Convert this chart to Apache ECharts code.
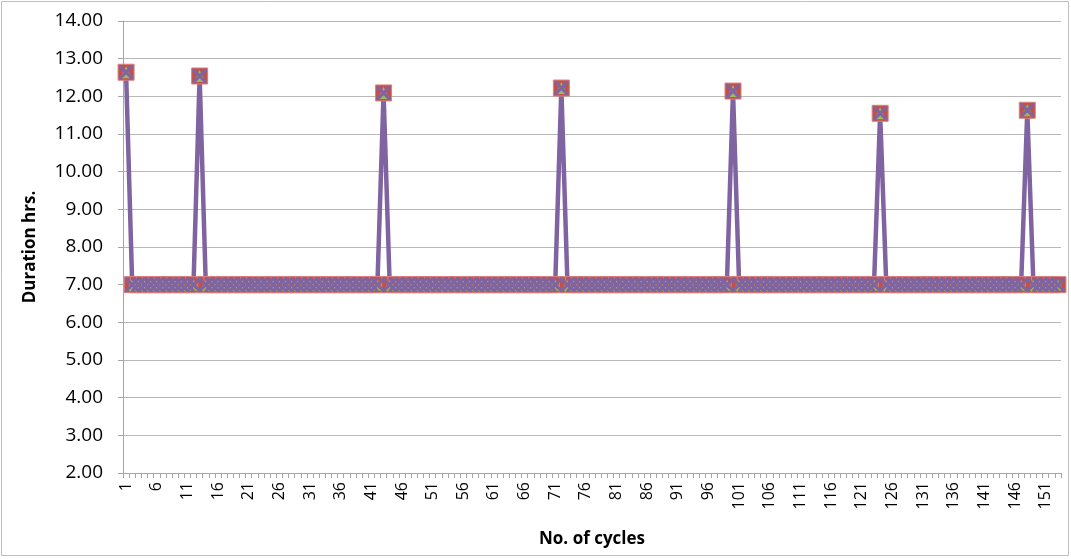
<!DOCTYPE html>
<html>
<head>
<meta charset="utf-8">
<script src="https://cdn.jsdelivr.net/npm/echarts@6/dist/echarts.min.js"></script>
<style>
html,body{margin:0;padding:0;background:#fff;}
#chart{width:1071px;height:559px;}
</style>
</head>
<body>
<div id="chart"></div>
<script>
// Cycle numbers 1..153
const cycles = [
1,2,3,4,5,6,7,8,9,10,11,12,13,14,15,16,17,18,19,20,
21,22,23,24,25,26,27,28,29,30,31,32,33,34,35,36,37,38,39,40,
41,42,43,44,45,46,47,48,49,50,51,52,53,54,55,56,57,58,59,60,
61,62,63,64,65,66,67,68,69,70,71,72,73,74,75,76,77,78,79,80,
81,82,83,84,85,86,87,88,89,90,91,92,93,94,95,96,97,98,99,100,
101,102,103,104,105,106,107,108,109,110,111,112,113,114,115,116,117,118,119,120,
121,122,123,124,125,126,127,128,129,130,131,132,133,134,135,136,137,138,139,140,
141,142,143,144,145,146,147,148,149,150,151,152,153
];
// Duration (hrs) per cycle
const duration = [
12.64,7,7,7,7,7,7,7,7,7,7,7,12.54,7,7,7,7,7,7,7,
7,7,7,7,7,7,7,7,7,7,7,7,7,7,7,7,7,7,7,7,
7,7,12.09,7,7,7,7,7,7,7,7,7,7,7,7,7,7,7,7,7,
7,7,7,7,7,7,7,7,7,7,7,12.22,7,7,7,7,7,7,7,7,
7,7,7,7,7,7,7,7,7,7,7,7,7,7,7,7,7,7,7,12.14,
7,7,7,7,7,7,7,7,7,7,7,7,7,7,7,7,7,7,7,7,
7,7,7,11.55,7,7,7,7,7,7,7,7,7,7,7,7,7,7,7,7,
7,7,7,7,7,7,7,11.63,7,7,7,7,7
];
const yTicks = [2,3,4,5,6,7,8,9,10,11,12,13,14];

const xPath = 'path://M0,1.5 L1.5,0 L5,3.5 L8.5,0 L10,1.5 L6.5,5 L10,8.5 L8.5,10 L5,6.5 L1.5,10 L0,8.5 L3.5,5 Z';
const font = '"Open Sans", "Liberation Sans", sans-serif';

const chart = echarts.init(document.getElementById('chart'), null, {renderer:'canvas'});
chart.setOption({
  animation:false,
  backgroundColor:'#fff',
  graphic:[{type:'rect',shape:{x:1.5,y:1.5,width:1067,height:554},style:{fill:null,stroke:'#bfbfbf',lineWidth:1},silent:true}],
  grid:{left:123,right:10,top:21,bottom:86},
  xAxis:{
    type:'category',data:cycles,boundaryGap:true,
    name:'No. of cycles',nameLocation:'middle',nameGap:58,
    nameTextStyle:{fontFamily:font,fontSize:17,fontWeight:'bold',color:'#000'},
    axisLine:{lineStyle:{color:'#a6a6a6',width:1}},
    axisTick:{show:true,interval:0,length:5,lineStyle:{color:'#a6a6a6'}},
    axisLabel:{interval:4,rotate:90,margin:9,fontFamily:font,fontSize:16,color:'#000'},
    splitLine:{show:false}
  },
  yAxis:{
    type:'value',min:yTicks[0],max:yTicks[yTicks.length-1],interval:1,
    name:'Duration hrs.',nameLocation:'middle',nameGap:84,
    nameTextStyle:{fontFamily:font,fontSize:17,fontWeight:'bold',color:'#000'},
    axisLine:{show:true,lineStyle:{color:'#a6a6a6',width:1}},
    axisTick:{show:true,length:5,lineStyle:{color:'#a6a6a6'}},
    axisLabel:{margin:20,fontFamily:font,fontSize:19,color:'#000',formatter:v=>v.toFixed(2)},
    splitLine:{lineStyle:{color:'#b8b8b8',width:1}}
  },
  series:[
    {type:'line',name:'s1',data:duration,symbol:'diamond',symbolSize:10,showAllSymbol:true,
     lineStyle:{color:'#4F81BD',width:2.5},itemStyle:{color:'#4F81BD'}},
    {type:'line',name:'s2',data:duration,symbol:'rect',symbolSize:16,showAllSymbol:true,
     lineStyle:{color:'#C0504D',width:2.5},itemStyle:{color:'#C0504D',borderColor:'#d9817e',borderWidth:1}},
    {type:'line',name:'s3',data:duration,symbol:'triangle',symbolSize:12,showAllSymbol:true,
     lineStyle:{color:'#9BBB59',width:2.5},itemStyle:{color:'#9BBB59'}},
    {type:'line',name:'s4',data:duration,symbol:xPath,symbolSize:15,showAllSymbol:true,
     lineStyle:{color:'#8064A2',width:4.5},itemStyle:{color:'#8064A2'}}
  ]
});
</script>
</body>
</html>
